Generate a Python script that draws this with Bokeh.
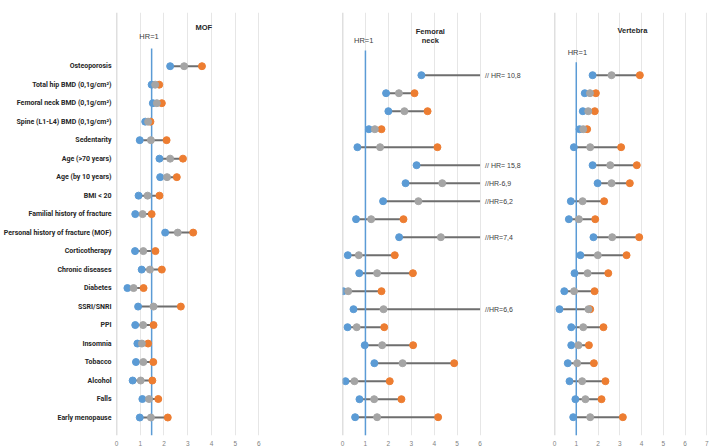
import numpy as np
from bokeh.plotting import figure
from bokeh.layouts import row
from bokeh.models import Range1d, FixedTicker, Span, Label, LabelSet, ColumnDataSource
from bokeh.core.properties import value
from bokeh.embed import file_html
from bokeh.resources import INLINE

factors = ["Osteoporosis", "Total hip BMD (0,1g/cm²)", "Femoral neck BMD (0,1g/cm²)",
           "Spine (L1-L4) BMD (0,1g/cm²)", "Sedentarity", "Age (>70 years)", "Age (by 10 years)",
           "BMI < 20", "Familial history of fracture", "Personal history of fracture (MOF)",
           "Corticotherapy", "Chronic diseases", "Diabetes", "SSRI/SNRI", "PPI", "Insomnia",
           "Tobacco", "Alcohol", "Falls", "Early menopause"]

mof_low = [2.26, 1.48, 1.53, 1.21, 0.98, 1.81, 1.84, 0.93, 0.79, 2.05, 0.78, 1.06, 0.46, 0.91, 0.79, 0.88, 0.82, 0.68, 1.09, 0.98]
mof_hr = [2.85, 1.63, 1.70, 1.33, 1.45, 2.26, 2.13, 1.31, 1.10, 2.58, 1.13, 1.41, 0.72, 1.56, 1.12, 1.07, 1.13, 1.02, 1.37, 1.45]
mof_up = [3.60, 1.80, 1.91, 1.43, 2.11, 2.80, 2.54, 1.81, 1.48, 3.23, 1.64, 1.91, 1.14, 2.71, 1.56, 1.33, 1.55, 1.51, 1.76, 2.16]

fn_low = [3.44, 1.90, 2.00, 1.15, 0.65, 3.23, 2.75, 1.77, 0.59, 2.47, 0.23, 0.73, 0.03, 0.48, 0.22, 0.97, 1.39, 0.13, 0.74, 0.55]
fn_hr = [np.nan, 2.46, 2.70, 1.41, 1.64, np.nan, 4.35, 3.31, 1.25, 4.29, 0.71, 1.51, 0.25, 1.79, 0.62, 1.73, 2.62, 0.52, 1.38, 1.51]
fn_up = [10.8, 3.14, 3.71, 1.70, 4.14, 15.8, 6.9, 6.2, 2.66, 7.4, 2.28, 3.07, 1.70, 6.6, 1.82, 3.08, 4.87, 2.06, 2.57, 4.17]
fn_notes = {0: "// HR= 10,8", 5: "// HR= 15,8", 6: "//HR-6,9", 7: "//HR=6,2", 9: "//HR=7,4", 13: "//HR=6,6"}

vt_low = [1.75, 1.39, 1.30, 1.15, 0.89, 1.75, 1.98, 0.75, 0.66, 1.79, 1.19, 0.92, 0.45, 0.23, 0.77, 0.77, 0.61, 0.69, 0.96, 0.86]
vt_hr = [2.62, 1.63, 1.55, 1.32, 1.64, 2.56, 2.62, 1.29, 1.12, 2.65, 1.99, 1.52, 0.90, 1.56, 1.32, 1.10, 1.04, 1.27, 1.42, 1.64]
vt_up = [3.92, 1.90, 1.85, 1.50, 3.06, 3.78, 3.46, 2.28, 1.87, 3.89, 3.31, 2.47, 1.84, 1.64, 2.25, 1.58, 1.81, 2.34, 2.16, 3.14]

mof_ticks = [0, 1, 2, 3, 4, 5, 6]
fn_ticks = [0, 1, 2, 3, 4, 5, 6]
vt_ticks = [0, 1, 2, 3, 4, 5, 6, 7]

BLUE, GRAY, ORANGE = "#5B9BD5", "#A5A5A5", "#ED7D31"
LINE = "#6E6E6E"
FONT = "Roboto"
TFONT = "Liberation Sans"
H = 448


def panel(width, mbl, mbr, x_end, ticks, y_start, y_end, low, hr, up, hr_line, hr_top):
    p = figure(width=width, height=H, x_range=Range1d(0, x_end), y_range=Range1d(y_start, y_end),
               output_backend="svg", toolbar_location=None, title=None,
               min_border_left=mbl, min_border_right=mbr, min_border_top=12, min_border_bottom=13)
    p.outline_line_color = None
    p.background_fill_color = "white"
    p.ygrid.visible = False
    p.xgrid.ticker = FixedTicker(ticks=ticks)
    p.xgrid.grid_line_color = "#E6E6E6"
    p.xaxis.ticker = FixedTicker(ticks=ticks)
    p.xaxis.axis_line_color = None
    p.xaxis.major_tick_line_color = None
    p.xaxis.minor_tick_line_color = None
    p.xaxis.major_tick_out = 0
    p.xaxis.major_tick_in = 0
    p.xaxis.major_label_standoff = 5
    p.xaxis.major_label_text_font_size = "6.5px"
    p.xaxis.major_label_text_color = "#7F7F7F"
    p.xaxis.major_label_text_font = TFONT
    p.add_layout(Span(location=0, dimension="height", line_color="#BFBFBF", line_width=1.5))

    rows = list(range(len(low)))
    lo = np.array(low, dtype=float)
    hi = np.array(up, dtype=float)
    seg_end = np.minimum(hi, ticks[-1])
    p.segment(x0=lo, y0=rows, x1=seg_end, y1=rows, line_color=LINE, line_width=2)
    p.segment(x0=[hr_line], y0=[hr_top], x1=[hr_line], y1=[y_start], line_color=BLUE, line_width=1.5)
    p.scatter(x=lo, y=rows, size=7, color=BLUE)
    vis = hi <= ticks[-1]
    p.scatter(x=hi[vis], y=np.array(rows)[vis], size=7, color=ORANGE)
    p.scatter(x=np.array(hr, dtype=float), y=rows, size=7, color=GRAY)
    return p


def title_label(p, x, y, text, bold=True, size="7.5px"):
    p.add_layout(Label(x=x, y=y, text=text, text_align="center", text_baseline="middle",
                       text_font=TFONT, text_font_size=size,
                       text_font_style="bold" if bold else "normal",
                       text_color="#262626" if bold else "#404040"))


# MOF panel
p1 = panel(300, 115, 10, 7.33, mof_ticks, 19.973, -2.904, mof_low, mof_hr, mof_up, 1.48, -0.957)
p1.yaxis.ticker = FixedTicker(ticks=list(range(len(factors))))
p1.yaxis.major_label_overrides = {i: f for i, f in enumerate(factors)}
p1.yaxis.axis_line_color = None
p1.yaxis.major_tick_line_color = None
p1.yaxis.minor_tick_line_color = None
p1.yaxis.major_tick_out = 0
p1.yaxis.major_tick_in = 0
p1.yaxis.major_label_standoff = 5
p1.yaxis.major_label_text_font = FONT
p1.yaxis.major_label_text_font_size = "7px"
p1.yaxis.major_label_text_font_style = "bold"
p1.yaxis.major_label_text_color = "#262626"
title_label(p1, 3.68, -2.11, "MOF")
title_label(p1, 1.37, -1.62, "HR=1", bold=False)

# Femoral neck panel
p2 = panel(248, 42, 3, 8.853, fn_ticks, 20.017, -3.483, fn_low, fn_hr, fn_up, 1.0, -1.37)
p2.yaxis.visible = False
title_label(p2, 3.83, -2.44, "Femoral")
title_label(p2, 3.83, -1.91, "neck")
title_label(p2, 0.925, -1.93, "HR=1", bold=False)
note_rows = list(fn_notes.keys())
note_src = ColumnDataSource(dict(x=[fn_ticks[-1]] * len(note_rows), y=note_rows,
                                 t=[fn_notes[r] for r in note_rows]))
p2.add_layout(LabelSet(x="x", y="y", text="t", source=note_src, x_offset=5, text_baseline="middle",
                       text_font=value(TFONT), text_font_size=value("7px"), text_color=value("#404040")))

# Vertebra panel
p3 = panel(161, 6, 1, 7.074, vt_ticks, 20.017, -3.483, vt_low, vt_hr, vt_up, 1.0, -0.72)
p3.yaxis.visible = False
title_label(p3, 3.58, -2.5, "Vertebra")
title_label(p3, 1.05, -1.28, "HR=1", bold=False)

layout = row(p1, p2, p3)
open("out.html", "w").write(file_html(layout, INLINE))
